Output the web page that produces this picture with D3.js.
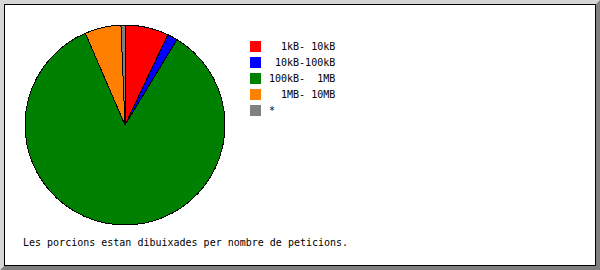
<!DOCTYPE html>
<html>
<head>
<meta charset="utf-8">
<script src="https://cdn.jsdelivr.net/npm/d3@7"></script>
<style>
  body { margin: 0; background: #fff; }
  text { font-family: "DejaVu Sans Mono", monospace; font-size: 10px; white-space: pre; }
</style>
</head>
<body>
<div id="chart"></div>
<script>
// Pie data (request counts share)
var labels = ["  1kB- 10kB", " 10kB-100kB", "100kB-  1MB", "  1MB- 10MB", "*"];
var values = [7.05, 1.65, 84.8, 5.85, 0.65];
var colors = ["#ff0000", "#0000ff", "#008000", "#ff8000", "#808080"];
var footnote = "Les porcions estan dibuixades per nombre de peticions.";

var width = 600, height = 270;

var svg = d3.select("#chart").append("svg")
    .attr("width", width)
    .attr("height", height);

// bevelled frame
svg.append("rect").attr("width", width).attr("height", height).attr("fill", "#fff");
svg.append("path")
    .attr("d", "M0,0H600L596,4H4V266L0,270Z")
    .attr("fill", "#d6d6d6");
svg.append("path")
    .attr("d", "M600,0V270H0L4,266H596V4Z")
    .attr("fill", "#808080");
svg.append("rect")
    .attr("x", 4.5).attr("y", 4.5)
    .attr("width", 591).attr("height", 261)
    .attr("fill", "none").attr("stroke", "#000");

var pie = d3.pie().sort(null).value(function(d) { return d; });
var arc = d3.arc().innerRadius(0).outerRadius(100);

var g = svg.append("g").attr("transform", "translate(125,125)");
g.selectAll("path")
    .data(pie(values))
  .enter().append("path")
    .attr("d", arc)
    .attr("fill", function(d, i) { return colors[i]; })
    .attr("stroke", "#000")
    .attr("stroke-width", 1)
    .attr("shape-rendering", "crispEdges");

// legend
var legend = svg.append("g").attr("class", "legend");
var item = legend.selectAll("g")
    .data(labels)
  .enter().append("g")
    .attr("transform", function(d, i) { return "translate(250," + (41 + i * 16) + ")"; });

item.append("rect")
    .attr("width", 11).attr("height", 11)
    .attr("fill", function(d, i) { return colors[i]; });

item.append("text")
    .attr("x", 19).attr("y", 9)
    .text(function(d) { return d; });

svg.append("text")
    .attr("x", 23).attr("y", 246)
    .text(footnote);
</script>
</body>
</html>
